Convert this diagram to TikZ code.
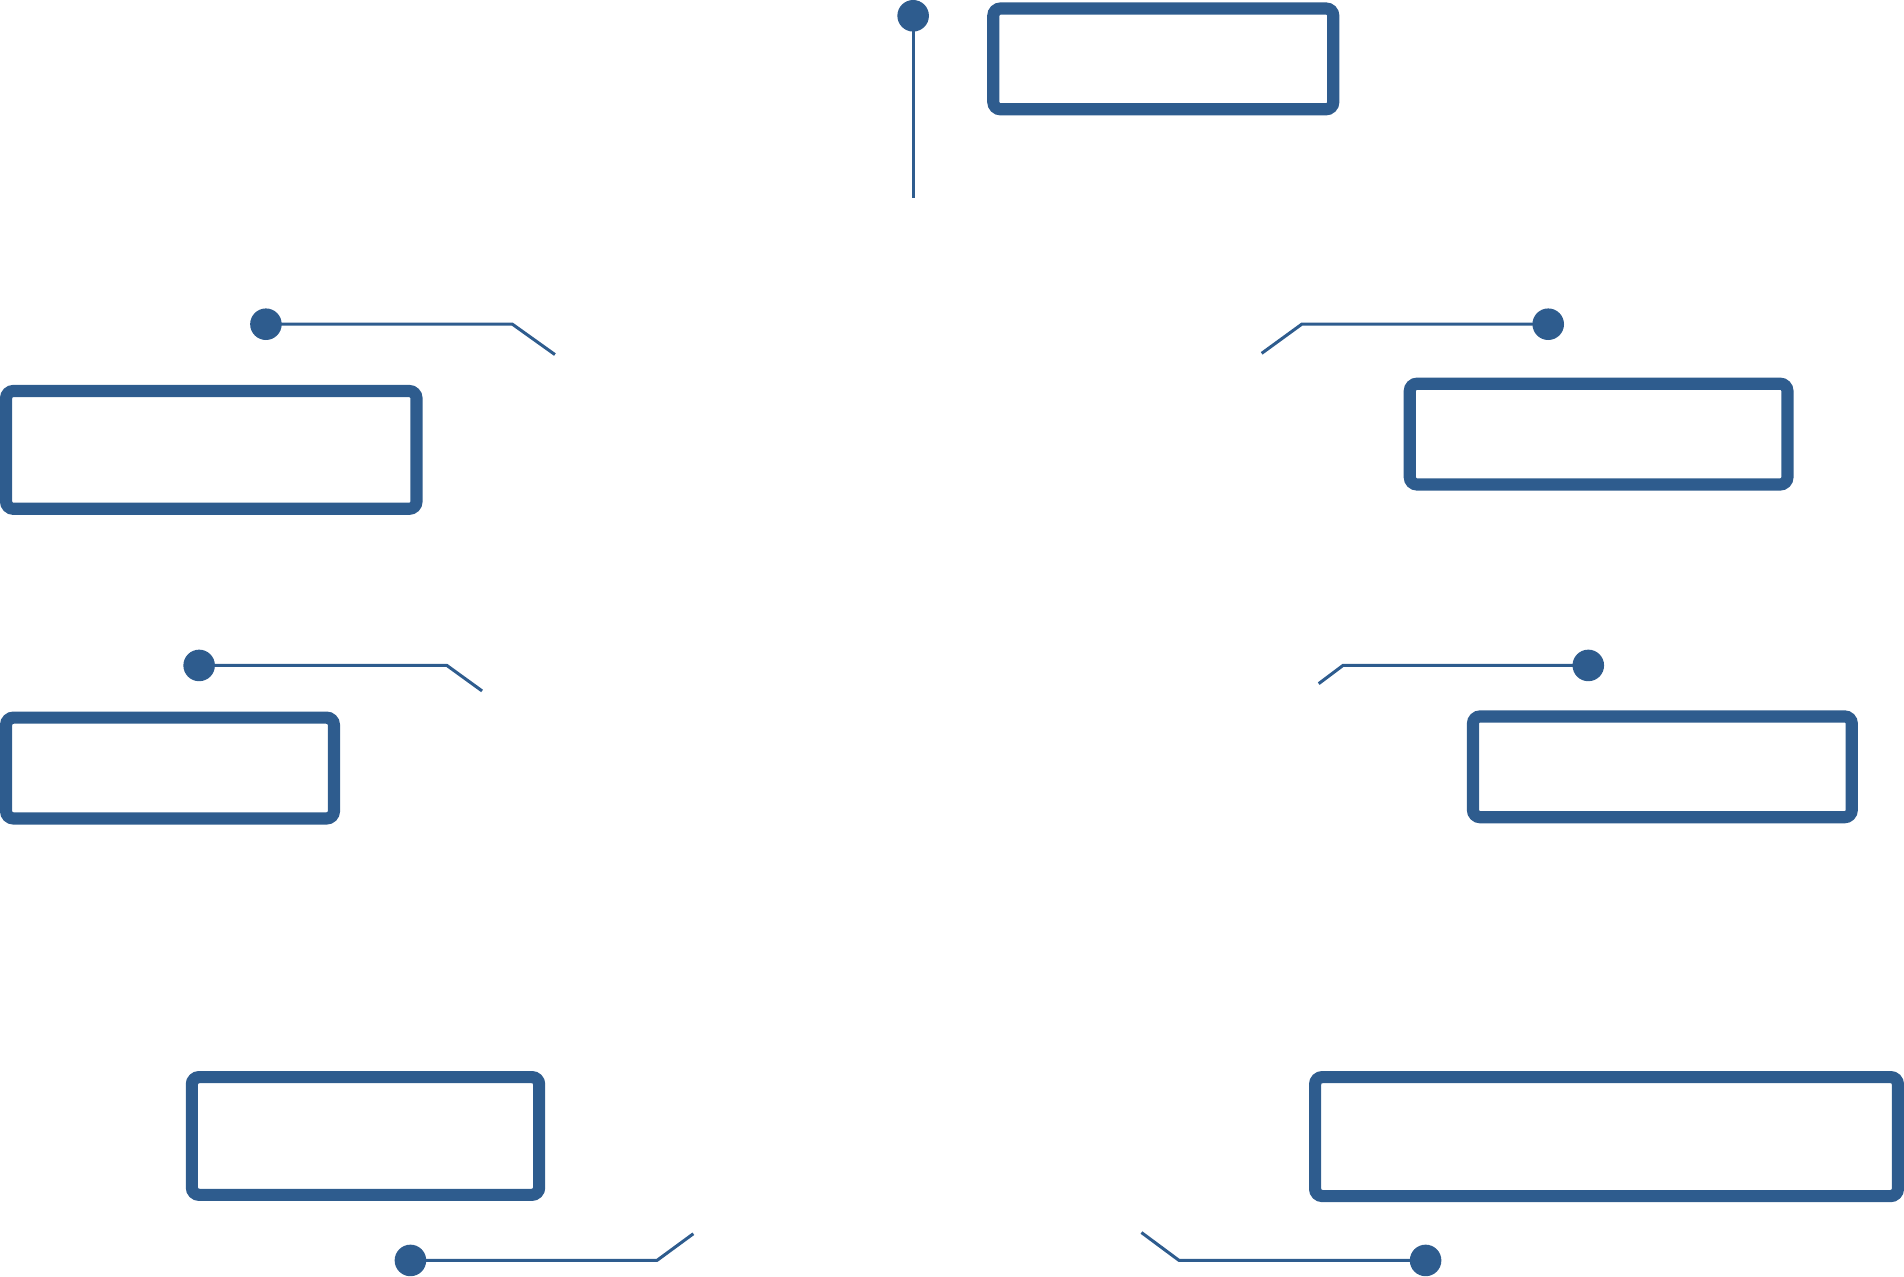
\documentclass[tikz,border=0pt]{standalone}
\definecolor{bl}{HTML}{2E5C8E}
\begin{document}
\begin{tikzpicture}[x=1pt,y=-1pt,
  box/.style={draw=bl,line width=10pt,rounded corners=6pt},
  lead/.style={draw=bl,line width=2.5pt},
  dotc/.style={circle,fill=bl,inner sep=0pt,minimum size=26pt}]
\useasboundingbox (0,0) rectangle (1568,1051);
\draw[box] (818,7) rectangle (1098,90);
\draw[box] (5,322) rectangle (343,419);
\draw[box] (1161,316) rectangle (1472,399);
\draw[box] (5,591) rectangle (275,674);
\draw[box] (1213,590) rectangle (1525,673);
\draw[box] (158,887) rectangle (444,984);
\draw[box] (1083,887) rectangle (1563,985);
\node[dotc] (d1) at (752,13) {};
\coordinate (e1) at (752,163);
\draw[lead] (d1.center) -- (e1);
\node[dotc] (d2) at (219,267) {};
\coordinate (e2) at (457,292);
\draw[lead] (d2.center) -- (422,267) -- (e2);
\node[dotc] (d3) at (1275,267) {};
\coordinate (e3) at (1039,291);
\draw[lead] (d3.center) -- (1072,267) -- (e3);
\node[dotc] (d4) at (164,548) {};
\coordinate (e4) at (397,569);
\draw[lead] (d4.center) -- (368,548) -- (e4);
\node[dotc] (d5) at (1308,548) {};
\coordinate (e5) at (1086,563);
\draw[lead] (d5.center) -- (1106,548) -- (e5);
\node[dotc] (d6) at (338,1038) {};
\coordinate (e6) at (571,1016);
\draw[lead] (d6.center) -- (541,1038) -- (e6);
\node[dotc] (d7) at (1174,1038) {};
\coordinate (e7) at (940,1015);
\draw[lead] (d7.center) -- (971,1038) -- (e7);
\end{tikzpicture}
\end{document}
